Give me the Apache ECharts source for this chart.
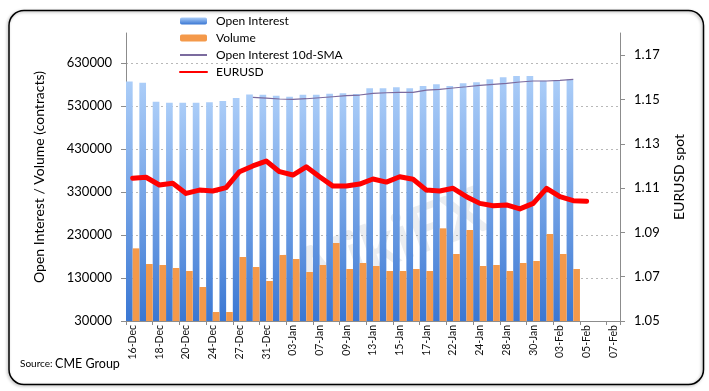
<!DOCTYPE html>
<html><head><meta charset="utf-8">
<script src="https://cdn.jsdelivr.net/npm/echarts@6/dist/echarts.min.js"></script>
<style>html,body{margin:0;padding:0;background:#fff}#c{width:709px;height:391px}</style>
</head><body><div id="c"></div><script>
const categories = ['16-Dec','17-Dec','18-Dec','19-Dec','20-Dec','23-Dec','24-Dec','26-Dec','27-Dec','30-Dec','31-Dec','02-Jan','03-Jan','06-Jan','07-Jan','08-Jan','09-Jan','10-Jan','13-Jan','14-Jan','15-Jan','16-Jan','17-Jan','21-Jan','22-Jan','23-Jan','24-Jan','27-Jan','28-Jan','29-Jan','30-Jan','31-Jan','03-Feb','04-Feb','05-Feb','06-Feb','07-Feb'];
const openInterest = [587000,584000,540000,538000,538000,538000,539000,542000,549000,557000,556500,554000,551700,556500,556500,558700,560000,558000,571300,571300,573600,571300,576600,580600,576600,582900,585200,592200,596900,599900,599900,589000,589000,592200];
const volume = [199000,162600,160300,153300,146300,109100,50900,50900,178900,155600,123000,183500,174200,144000,160300,211400,151000,164900,157900,146300,146300,151000,146300,245600,185900,241700,157900,160300,146300,164900,169600,232400,185900,151000];
const oiSma10 = [null,null,null,null,null,null,null,null,null,550300,548700,546400,545700,547100,549400,551700,554100,555700,559700,561000,562000,562000,567300,569000,572000,575000,578300,580600,582900,586000,588300,588300,589900,592200];
const eurusd = [1.1144,1.1149,1.1114,1.1122,1.1076,1.1091,1.1087,1.1102,1.1174,1.1200,1.1222,1.1174,1.1159,1.1196,1.1151,1.1109,1.1109,1.1118,1.1141,1.1127,1.1151,1.1140,1.1091,1.1087,1.1099,1.1061,1.1031,1.1020,1.1024,1.1006,1.1031,1.1099,1.1061,1.1043,1.1040];
const leftTicks = [30000,130000,230000,330000,430000,530000,630000];
const rightTicks = [1.05,1.07,1.09,1.11,1.13,1.15,1.17];

const FONT = 'Lato, "Open Sans", sans-serif';
const chart = echarts.init(document.getElementById('c'), null, {renderer:'canvas'});
const blueGrad = new echarts.graphic.LinearGradient(0,0,0,1,[{offset:0,color:'#abcdf8'},{offset:1,color:'#3a77d3'}]);
const noSymbol = {color:'rgba(0,0,0,0)',borderWidth:0,opacity:0};
chart.setOption({
  animation:false,
  backgroundColor:'#fff',
  textStyle:{fontFamily:FONT},
  grid:{left:126,right:89,top:33,bottom:70,containLabel:false},
  legend:{
    orient:'vertical', left:179, top:15, padding:0, itemWidth:27, itemHeight:7, itemGap:5,
    textStyle:{fontFamily:FONT,fontSize:12,color:'#000',padding:[0,0,0,4]},
    data:[
      {name:'Open Interest'},
      {name:'Volume'},
      {name:'Open Interest 10d-SMA',itemStyle:noSymbol},
      {name:'EURUSD',itemStyle:noSymbol}
    ]
  },
  xAxis:{
    type:'category', data:categories, boundaryGap:true,
    axisLine:{lineStyle:{color:'#8c8c8c'}},
    axisTick:{show:true,interval:1,length:4,lineStyle:{color:'#8c8c8c'}},
    axisLabel:{interval:1,rotate:90,fontSize:10.5,margin:4,color:'#111',fontFamily:FONT}
  },
  yAxis:[{
    type:'value', min:30000, max:700000,
    name:'Open Interest / Volume (contracts)', nameLocation:'middle', nameRotate:90, nameGap:80,
    nameTextStyle:{fontSize:14,color:'#000',fontFamily:FONT},
    axisLine:{show:true,lineStyle:{color:'#8c8c8c'}},
    axisTick:{show:true,length:5,customValues:leftTicks,lineStyle:{color:'#8c8c8c'}},
    axisLabel:{customValues:leftTicks,fontSize:13,margin:14,color:'#000',fontFamily:FONT,formatter:v=>String(Math.round(v))},
    splitLine:{show:true,lineStyle:{color:'#b8b8b8',type:[2,3]}}
  },{
    type:'value', min:1.05, max:1.18, position:'right',
    name:'EURUSD spot', nameLocation:'middle', nameRotate:90, nameGap:52,
    nameTextStyle:{fontSize:14,color:'#000',fontFamily:FONT},
    axisLine:{show:true,lineStyle:{color:'#8c8c8c'}},
    axisTick:{show:true,length:5,customValues:rightTicks,lineStyle:{color:'#8c8c8c'}},
    axisLabel:{customValues:rightTicks,fontSize:13,margin:14,color:'#000',fontFamily:FONT,formatter:v=>v.toFixed(2)},
    splitLine:{show:false}
  }],
  series:[
    {name:'Open Interest',type:'bar',data:openInterest,barGap:'0%',barCategoryGap:'0%',itemStyle:{color:blueGrad}},
    {name:'Volume',type:'bar',data:volume,barGap:'0%',barCategoryGap:'0%',itemStyle:{color:'#f4994a'}},
    {name:'Open Interest 10d-SMA',type:'line',data:oiSma10,symbol:'none',showSymbol:false,
      lineStyle:{color:'#7b6b9e',width:1.2},itemStyle:{color:'#7b6b9e'}},
    {name:'EURUSD',type:'line',yAxisIndex:1,data:eurusd,symbol:'none',showSymbol:false,
      lineStyle:{color:'#ff0000',width:5,cap:'round',join:'round'},itemStyle:{color:'#ff0000'}}
  ],
  graphic:[
    {type:'rect',left:6.5,top:8,shape:{width:694.5,height:374,r:15},z:-1,
      style:{fill:'none',stroke:'#000',lineWidth:1.5,shadowBlur:3,shadowColor:'rgba(0,0,0,0.35)',shadowOffsetX:-1,shadowOffsetY:1}},
    {type:'text',left:20,top:357,style:{text:'{a|Source: }{b|CME Group}',rich:{a:{fontSize:10,fontFamily:FONT,fill:'#000'},b:{fontSize:12.5,fontFamily:FONT,fill:'#000'}}}},
    {type:'text',x:385,y:245,rotation:0.35,z:1,style:{text:'WikiFX',fontSize:64,fontWeight:'bold',fontFamily:FONT,fill:'rgba(130,140,160,0.16)',align:'center',verticalAlign:'middle'}}
  ]
});
</script></body></html>
